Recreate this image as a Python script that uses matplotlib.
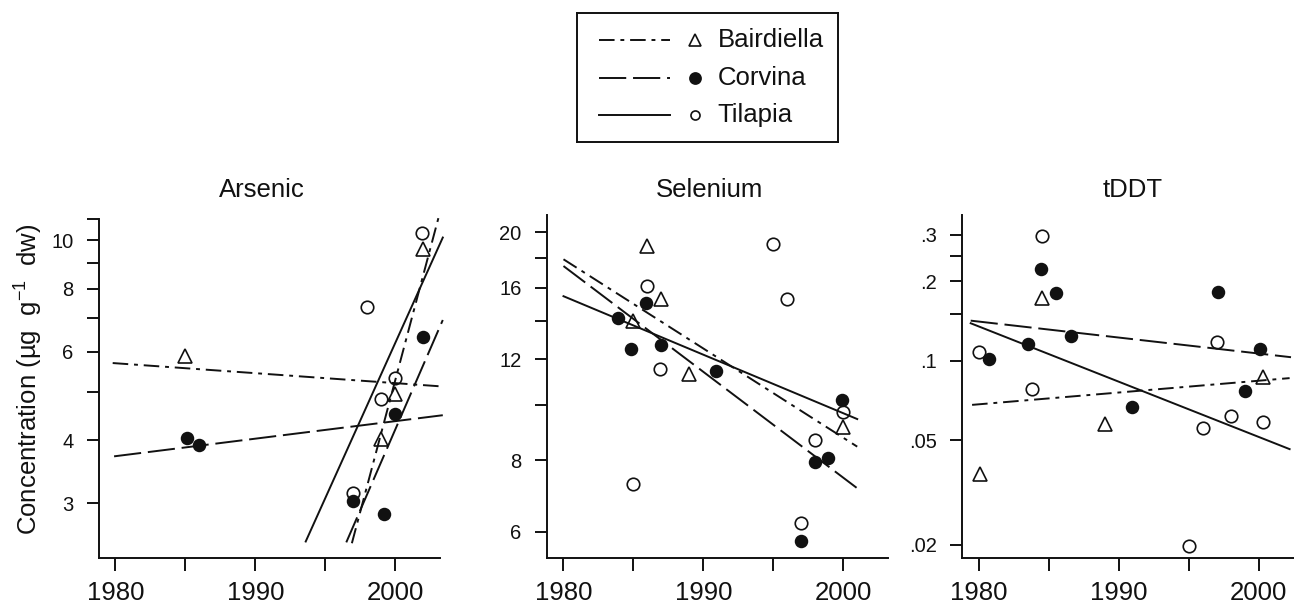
import numpy as np
import matplotlib
matplotlib.use("Agg")
import matplotlib.pyplot as plt
from matplotlib.ticker import NullLocator

plt.rcParams['font.family'] = ['Liberation Sans', 'DejaVu Sans']
plt.rcParams['mathtext.fontset'] = 'custom'
plt.rcParams['mathtext.rm'] = 'Liberation Sans'
plt.rcParams['mathtext.it'] = 'Liberation Sans:italic'

INK = '#111111'
W, H = 1294, 605

year_ticks = [1980, 1985, 1990, 1995, 2000]
year_labels = ['1980', '', '1990', '', '2000']

# ---- Arsenic ----
as_bair_x = [1985, 1999, 2000, 2002]
as_bair_y = [5.90, 4.02, 4.95, 9.6]
as_corv_x = [1985.1, 1986, 1997, 1999.2, 2000, 2002]
as_corv_y = [4.05, 3.91, 3.03, 2.86, 4.52, 6.42]
as_tila_x = [1997, 1998, 1999, 2000, 2001.9]
as_tila_y = [3.14, 7.35, 4.83, 5.33, 10.32]
as_bair_fit = [([1979.8, 2003.4], [5.70, 5.12]), ([1996.9, 2003.1], [2.50, 11.1])]
as_corv_fit = [([1979.9, 2003.4], [3.72, 4.49]), ([1996.5, 2003.4], [2.51, 6.94])]
as_tila_fit = [([1993.6, 2003.4], [2.52, 10.12])]
as_ticks = [3, 4, 5, 6, 7, 8, 9, 10, 11]
as_labels = ['3', '4', '', '6', '', '8', '', '10', '']
as_ylim = (2.34, 10.95)

# ---- Selenium ----
se_bair_x = [1985, 1986, 1987, 1989, 2000]
se_bair_y = [14.0, 18.9, 15.27, 11.31, 9.14]
se_corv_x = [1983.9, 1984.8, 1985.9, 1987, 1990.9, 1997, 1998, 1998.9, 1999.9]
se_corv_y = [14.15, 12.49, 15.06, 12.71, 11.46, 5.79, 7.93, 8.07, 10.19]
se_tila_x = [1985, 1986, 1986.9, 1995, 1996, 1997, 1998, 2000]
se_tila_y = [7.27, 16.1, 11.52, 19.09, 15.27, 6.23, 8.68, 9.72]
se_bair_fit = [([1980, 2001], [17.93, 8.45])]
se_corv_fit = [([1980, 2001], [17.45, 7.15])]
se_tila_fit = [([1980, 2001], [15.46, 9.44])]
se_ticks = [6, 8, 10, 12, 14, 16, 18, 20]
se_labels = ['6', '8', '', '12', '', '16', '', '20']
se_ylim = (5.41, 21.42)

# ---- tDDT ----
dd_bair_x = [1980.1, 1984.5, 1989, 2000.3]
dd_bair_y = [0.0373, 0.1725, 0.0576, 0.0866]
dd_corv_x = [1980.7, 1983.5, 1984.4, 1985.5, 1986.6, 1990.9, 1997.1, 1999, 2000.1]
dd_corv_y = [0.1016, 0.1159, 0.2228, 0.180, 0.1245, 0.0667, 0.1824, 0.0768, 0.1109]
dd_tila_x = [1980, 1983.8, 1984.5, 1995, 1996, 1997, 1998, 2000.3]
dd_tila_y = [0.1077, 0.078, 0.297, 0.0199, 0.0558, 0.1182, 0.0619, 0.0585]
dd_bair_fit = [([1979.5, 2002.2], [0.0680, 0.0859])]
dd_corv_fit = [([1979.4, 2002.3], [0.1419, 0.1031])]
dd_tila_fit = [([1979.4, 2002.2], [0.1387, 0.0462])]
dd_ticks = [0.02, 0.05, 0.1, 0.15, 0.2, 0.25, 0.3]
dd_labels = ['.02', '.05', '.1', '', '.2', '', '.3']
dd_ylim = (0.0179, 0.357)

species = ['Bairdiella', 'Corvina', 'Tilapia']
styles = {
    'Bairdiella': dict(ls=(0, (8, 3, 2, 3)), marker='^', mfc='none', ms=10),
    'Corvina': dict(ls=(0, (14, 3.5)), marker='o', mfc=INK, ms=8.5),
    'Tilapia': dict(ls='-', marker='o', mfc='none', ms=9),
}

panels = [
    dict(title='Arsenic', left=98.7, top=219.3, tx=262,
         pts=[(as_bair_x, as_bair_y), (as_corv_x, as_corv_y), (as_tila_x, as_tila_y)],
         fits=[as_bair_fit, as_corv_fit, as_tila_fit],
         ticks=as_ticks, labels=as_labels, ylim=as_ylim),
    dict(title='Selenium', left=546.7, top=215, tx=710,
         pts=[(se_bair_x, se_bair_y), (se_corv_x, se_corv_y), (se_tila_x, se_tila_y)],
         fits=[se_bair_fit, se_corv_fit, se_tila_fit],
         ticks=se_ticks, labels=se_labels, ylim=se_ylim),
    dict(title='tDDT', left=962.3, top=215, tx=1133,
         pts=[(dd_bair_x, dd_bair_y), (dd_corv_x, dd_corv_y), (dd_tila_x, dd_tila_y)],
         fits=[dd_bair_fit, dd_corv_fit, dd_tila_fit],
         ticks=dd_ticks, labels=dd_labels, ylim=dd_ylim),
]

fig = plt.figure(figsize=(W / 100, H / 100), dpi=100)
bottom_px = 557.7
width_px = 341.3

for p in panels:
    ax = fig.add_axes([p['left'] / W, 1 - bottom_px / H, width_px / W,
                       (bottom_px - p['top']) / H])
    ax.set_yscale('log')
    for sp, (xs, ys), fit in zip(species, p['pts'], p['fits']):
        st = styles[sp]
        for fx, fy in fit:
            ax.plot(fx, fy, color=INK, lw=1.4, ls=st['ls'], clip_on=False, zorder=2)
        ax.plot(xs, ys, ls='none', marker=st['marker'], ms=st['ms'],
                mfc=st['mfc'], mec=INK, mew=1.2, clip_on=False, zorder=3)
    ax.set_xlim(1978.8, 2003.2)
    ax.set_ylim(*p['ylim'])
    ax.set_yticks(p['ticks'], p['labels'])
    ax.yaxis.set_minor_locator(NullLocator())
    ax.set_xticks(year_ticks, year_labels)
    for s in ['top', 'right']:
        ax.spines[s].set_visible(False)
    for s in ['left', 'bottom']:
        ax.spines[s].set_linewidth(1.4)
        ax.spines[s].set_color(INK)
    ax.tick_params(axis='both', direction='out', length=9, width=1.4, color=INK)
    ax.tick_params(axis='x', labelsize=18.5, pad=8, labelcolor=INK)
    ax.tick_params(axis='y', labelsize=14.5, pad=9, labelcolor=INK)
    ax.set_facecolor('none')
    fig.text(p['tx'] / W, 1 - 190 / H, p['title'], ha='center', va='center',
             fontsize=18.5, color=INK)

fig.text(29 / W, 1 - 379 / H, r'Concentration (µg  g$^{-1}$  dw)', rotation=90,
         ha='center', va='center', fontsize=18.5, color=INK)

# legend box drawn as its own small axes
lg_l, lg_r, lg_t, lg_b = 576.7, 838, 13.3, 141.7
lax = fig.add_axes([lg_l / W, 1 - lg_b / H, (lg_r - lg_l) / W, (lg_b - lg_t) / H])
lax.set_xlim(lg_l, lg_r)
lax.set_ylim(lg_b, lg_t)
lax.set_xticks([])
lax.set_yticks([])
for s in lax.spines.values():
    s.set_linewidth(1.4)
    s.set_color(INK)
row_y = [40, 77.7, 115]
leg_ms = {'Bairdiella': 9, 'Corvina': 8, 'Tilapia': 6.5}
for sp, yy in zip(species, row_y):
    st = styles[sp]
    lax.plot([599.3, 670], [yy, yy], color=INK, lw=1.4, ls=st['ls'])
    lax.plot([695], [yy], ls='none', marker=st['marker'], ms=leg_ms[sp],
             mfc=st['mfc'], mec=INK, mew=1.2)
    lax.text(717.7, yy, sp, ha='left', va='center', fontsize=18.5, color=INK)

fig.savefig('out.png', dpi=100)
